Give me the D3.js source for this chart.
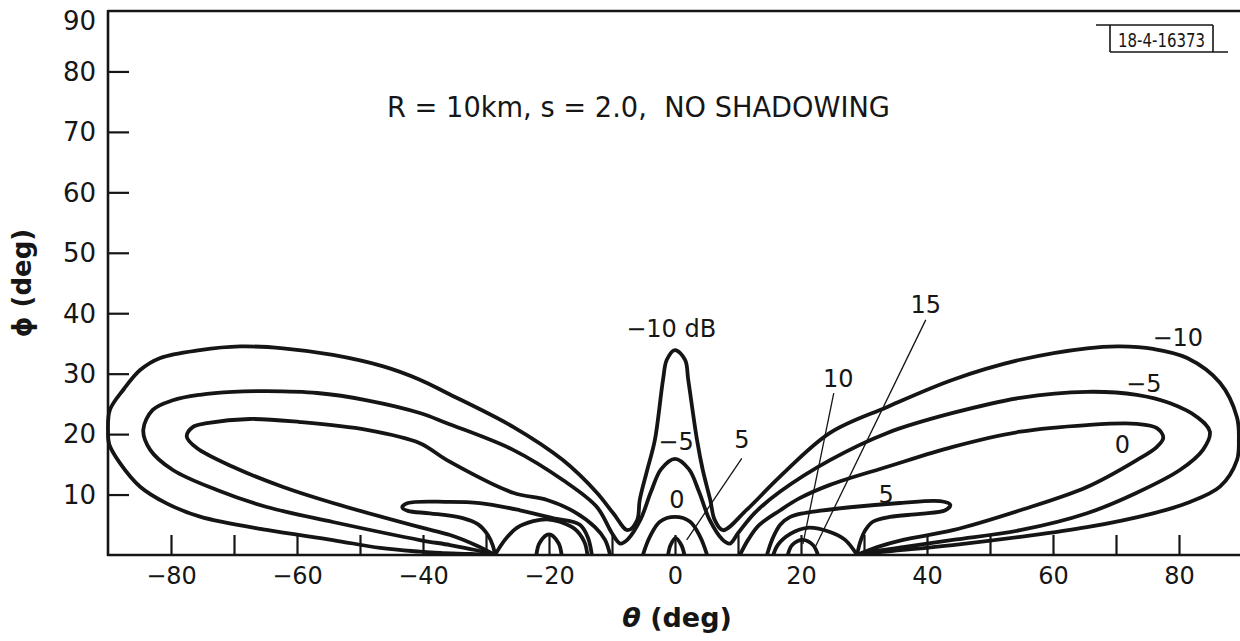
<!DOCTYPE html>
<html><head><meta charset="utf-8">
<script src="https://cdn.jsdelivr.net/npm/d3@7"></script>
<style>
body{margin:0;background:#fff;}
svg{display:block;}
text{font-family:"DejaVu Sans",sans-serif;fill:#161616;}
</style></head><body>
<svg id="chart" width="1240" height="641"></svg>
<script>
// ---- axis ticks ----
const xTicks = [-80,-70,-60,-50,-40,-30,-20,-10,0,10,20,30,40,50,60,70,80];
const xTickLabels = [-80,-60,-40,-20,0,20,40,60,80];
const yTicks = [10,20,30,40,50,60,70,80,90];
const yTickLabels = [10,20,30,40,50,60,70,80,90];

// ---- contour lines, [theta deg, phi deg] ----
const contourM10 = [[-28.57,0],[-32.5,0.17],[-37.3,0.33],[-40.5,0.55],[-46.8,1.16],[-54.3,2.48],[-64.8,4.14],[-75.4,6.34],[-80.7,8.55],[-84.9,11.3],[-88.1,15.2],[-89.8,18.3],[-90,20.4],[-89.7,24.0],[-87.6,27.3],[-84.9,30.6],[-81.7,32.6],[-75.4,33.9],[-69.0,34.5],[-62.2,34.2],[-54.3,33.1],[-46.3,31.2],[-40.5,29.0],[-36.2,26.8],[-25.7,21.2],[-17.8,15.7],[-12.4,10.3],[-9.8,6.9],[-7.5,4.1],[-6.0,5.8],[-5.6,9.1],[-4.4,14.1],[-3.2,19.0],[-1.9,29.0],[-1.3,32.3],[0,33.9],[1.6,32.3],[2.1,29.0],[3.5,19.0],[4.4,14.1],[5.6,9.1],[6.3,5.8],[7.6,4.1],[11.4,7.5],[16.7,13.0],[24.6,20.2],[33.7,24.5],[44.1,29.0],[54.8,32.3],[65.4,34.2],[70.6,34.5],[75.9,34.1],[81.3,32.6],[86.5,28.5],[89.2,22.8],[89.5,19.0],[89.2,15.7],[86.5,11.3],[81.3,8.6],[75.9,6.9],[65.4,4.6],[54.8,3.0],[44.1,1.65],[36.2,0.83],[31.0,0.33],[28.9,0]];
const contourM5 = [[-28.57,0],[-31.7,0.83],[-35.7,1.65],[-40.5,2.48],[-54.3,5.46],[-64.8,7.94],[-72.7,10.75],[-79.7,14.06],[-83.3,17.4],[-84.4,20.7],[-82.9,24.0],[-79.7,25.6],[-75.4,26.5],[-70.2,27.0],[-64.8,27.1],[-56.8,26.8],[-48.9,25.6],[-40.5,23.5],[-36.2,21.8],[-25.7,17.4],[-17.8,12.4],[-12.4,7.94],[-10.0,3.6],[-8.7,1.9],[-7.5,2.6],[-5.5,5.8],[-3.8,10.5],[-2.2,14.2],[0,15.9],[2.2,14.2],[3.8,10.5],[5.5,5.8],[7.5,2.6],[8.7,1.9],[10.0,3.6],[12.7,7.0],[16.7,10.5],[24.6,15.7],[33.7,20.2],[44.1,23.5],[54.8,26.0],[65.4,27.0],[73.3,26.5],[78.6,25.1],[82.9,22.8],[84.9,20.4],[83.8,17.4],[80.2,14.1],[73.3,10.3],[65.4,6.9],[54.8,4.1],[44.1,2.5],[36.2,1.3],[31.0,0.5],[28.9,0]];
const contour0Left = [[-28.57,0],[-31.7,1.65],[-35.7,3.3],[-40.5,4.6],[-54.3,8.6],[-62.2,11.25],[-70.2,14.6],[-75.9,17.7],[-77.5,19.6],[-76.5,21.2],[-74.3,21.8],[-67.5,22.5],[-59.5,22.0],[-48.9,20.7],[-40.5,18.5],[-36.2,15.7],[-25.7,10.3],[-20.3,9.1],[-15.9,7.1],[-12.7,4.6],[-11.1,2.5],[-10.3,0]];
const contour0Center = [[-5.1,0],[-4.0,3.0],[-2.4,5.5],[0,6.3],[2.4,5.5],[4.0,3.0],[5.1,0]];
const contour0Right = [[10.3,0],[11.6,2.5],[13.3,4.9],[16.7,7.4],[19.8,9.4],[24.6,11.6],[33.7,14.6],[44.1,17.9],[54.8,20.4],[65.4,21.5],[73.3,21.7],[76.5,21.0],[77.5,19.4],[76.5,17.9],[73.3,15.7],[65.4,11.25],[54.8,7.4],[44.1,4.1],[36.2,2.5],[32.1,1.3],[28.9,0]];
const contour5Left = [[-28.57,0],[-28.9,1.5],[-29.7,3.3],[-31.3,5.1],[-33.7,6.1],[-38.9,6.9],[-42.4,7.3],[-43.3,7.9],[-42.4,8.6],[-36.2,8.8],[-31.0,8.6],[-24.6,7.4],[-19.4,6.1],[-15.1,5.0],[-13.8,2.8],[-13.2,0]];
const contour5Center = [[-1.1,0],[-0.7,1.65],[0.1,2.8],[1.0,1.65],[1.5,0]];
const contour5Right = [[14.6,0],[15.4,2.5],[16.7,5.0],[18.3,6.3],[20.6,6.95],[27.8,7.9],[35.7,8.6],[42.1,8.9],[43.7,8.3],[42.9,7.4],[38.9,6.8],[34.1,6.3],[31.4,5.5],[30.2,4.1],[29.4,2.15],[28.9,0]];
const contour10Left = [[-28.57,0],[-27.0,2.5],[-25.1,4.5],[-22.5,5.6],[-20.3,5.9],[-18.3,5.5],[-15.9,4.3],[-14.4,2.2],[-13.9,0]];
const contour10Right = [[15.6,0],[16.3,1.65],[18.3,3.5],[21.0,4.5],[24.6,3.8],[27.0,2.5],[28.9,0]];
const contour15Left = [[-22.0,0],[-21.5,2.0],[-20.0,3.4],[-18.5,2.0],[-18.0,0]];
const contour15Right = [[17.9,0],[18.6,1.65],[20.3,2.5],[21.9,1.65],[22.7,0]];

// leader lines from labels to contours
const leader5 = [[10.6,16.0],[1.86,2.5]];
const leader10 = [[25.2,26.8],[20.3,1.8]];
const leader15 = [[39.8,38.9],[22.3,1.4]];

// contour labels: text, anchor theta, anchor phi (baseline)
const labelTexts = ["−10 dB","−5","0","5","10","15","−10","−5","0","5"];
const labelTheta = [-0.6,0.16,0.3,10.6,25.9,39.8,79.8,74.4,71.0,33.5];
const labelPhi   = [36.1,17.4,7.8,17.7,27.8,40.0,34.5,26.9,16.8,8.6];

const titleText = "R = 10km, s = 2.0,  NO SHADOWING";
const figId = "18-4-16373";

// ---- drawing ----
const svg = d3.select("#chart");
const x = d3.scaleLinear().domain([-90,90]).range([108,1242]);
const y = d3.scaleLinear().domain([0,90]).range([555,11]);
const ink = "#151515";

svg.append("defs").append("clipPath").attr("id","plotclip")
  .append("rect").attr("x",x(-90)-3).attr("y",y(90)).attr("width",x(90)-x(-90)+6).attr("height",y(0)-y(90));

const line = d3.line().x(d=>x(d[0])).y(d=>y(d[1])).curve(d3.curveCatmullRom.alpha(0.5));
const contours = [contourM10,contourM5,contour0Left,contour0Center,contour0Right,contour5Left,contour5Center,contour5Right,contour10Left,contour10Right,contour15Left,contour15Right];

// axes
const xAxis = d3.axisBottom(x).tickValues(xTicks).tickSizeInner(-20).tickSizeOuter(0).tickPadding(12)
  .tickFormat(d => xTickLabels.includes(d) ? d3.format("d")(d) : "");
const gx = svg.append("g").attr("transform",`translate(0,${y(0)})`).call(xAxis);
gx.select(".domain").remove();
gx.selectAll(".tick line").attr("stroke",ink).attr("stroke-width",2.2);
gx.selectAll(".tick text").attr("font-size",24).attr("fill",ink).style("font-family","DejaVu Sans");

const yAxis = d3.axisLeft(y).tickValues(yTicks).tickSizeInner(-21).tickSizeOuter(0).tickPadding(12)
  .tickFormat(d => yTickLabels.includes(d) ? d3.format("d")(d) : "");
const gy = svg.append("g").attr("transform",`translate(${x(-90)},0)`).call(yAxis);
gy.select(".domain").remove();
gy.selectAll(".tick line").attr("stroke",ink).attr("stroke-width",2.2).attr("display",d=>d===90?"none":null);
gy.selectAll(".tick text").attr("font-size",26).attr("fill",ink).style("font-family","DejaVu Sans")
  .attr("dy",d=>d===90?"0.72em":"0.34em");

// frame
const frame = svg.append("g").attr("stroke",ink).attr("stroke-width",2.6).attr("fill","none");
frame.append("line").attr("x1",x(-90)).attr("x2",x(-90)).attr("y1",y(0)+1).attr("y2",y(90)-1);
frame.append("line").attr("x1",x(-90)).attr("x2",1240).attr("y1",y(90)).attr("y2",y(90));
frame.append("line").attr("x1",x(-90)-1).attr("x2",1240).attr("y1",y(0)).attr("y2",y(0));

// contours
svg.append("g").attr("clip-path","url(#plotclip)")
  .selectAll("path").data(contours).join("path")
  .attr("d",line).attr("fill","none").attr("stroke",ink).attr("stroke-width",3.8)
  .attr("stroke-linejoin","round").attr("stroke-linecap","round");

// leaders
svg.append("g").selectAll("path").data([leader5,leader10,leader15]).join("path")
  .attr("d",d3.line().x(d=>x(d[0])).y(d=>y(d[1])))
  .attr("fill","none").attr("stroke",ink).attr("stroke-width",1.3);

// contour labels
svg.append("g").selectAll("text").data(labelTexts).join("text")
  .attr("x",(d,i)=>x(labelTheta[i])).attr("y",(d,i)=>y(labelPhi[i]))
  .attr("text-anchor","middle").attr("font-size",24).attr("fill",ink).text(d=>d);

// annotation
svg.append("text").attr("x",387).attr("y",117).attr("font-size",29).attr("fill",ink)
  .style("white-space","pre").attr("textLength",503).attr("lengthAdjust","spacingAndGlyphs").text(titleText);

// figure id box
const idg = svg.append("g").attr("stroke",ink).attr("stroke-width",1.6).attr("fill","none");
idg.append("line").attr("x1",1096).attr("x2",1213).attr("y1",25).attr("y2",25);
idg.append("line").attr("x1",1110).attr("x2",1228).attr("y1",52).attr("y2",52);
idg.append("line").attr("x1",1110).attr("x2",1110).attr("y1",25).attr("y2",52);
idg.append("line").attr("x1",1213).attr("x2",1213).attr("y1",25).attr("y2",52);
svg.append("text").attr("x",1118).attr("y",47).attr("font-size",19).attr("fill",ink)
  .style("font-family","'DejaVu Sans Condensed','Liberation Sans Narrow','DejaVu Sans'")
  .attr("textLength",87).attr("lengthAdjust","spacingAndGlyphs").text(figId);

// axis titles
const xt = svg.append("text").attr("x",677).attr("y",627).attr("text-anchor","middle")
  .attr("font-size",27).attr("font-weight","bold").attr("fill",ink);
xt.append("tspan").attr("font-style","italic").text("θ");
xt.append("tspan").style("white-space","pre").text(" (deg)");

svg.append("text").attr("transform","translate(31,283) rotate(-90)").attr("text-anchor","middle")
  .attr("font-size",26).attr("font-weight","bold").attr("fill",ink)
  .style("white-space","pre").text("ϕ (deg)");
</script>
</body></html>
